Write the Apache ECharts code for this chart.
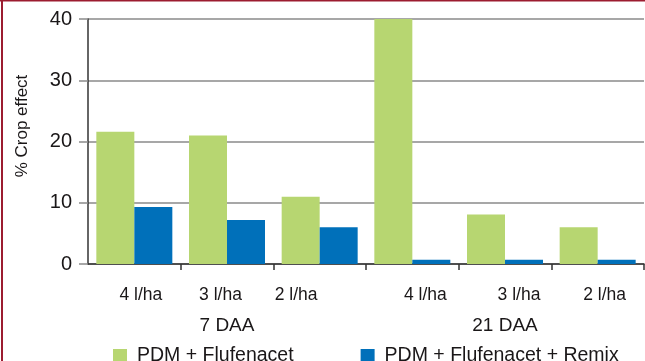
<!DOCTYPE html>
<html>
<head>
<meta charset="utf-8">
<script src="https://cdn.jsdelivr.net/npm/echarts@6/dist/echarts.min.js"></script>
<style>
html,body{margin:0;padding:0;background:#fff;}
#c{width:645px;height:361px;}
</style>
</head>
<body>
<div id="c"></div>
<script>
const categories = ['4 l/ha', '3 l/ha', '2 l/ha', '4 l/ha', '3 l/ha', '2 l/ha'];
const groups = ['7 DAA', '21 DAA'];
const seriesNames = ['PDM + Flufenacet', 'PDM + Flufenacet + Remix'];
const flufenacet = [21.6, 21.0, 11.0, 40.2, 8.1, 6.0];
const remix = [9.3, 7.2, 6.0, 0.7, 0.7, 0.7];
const yTicks = [0, 10, 20, 30, 40];

const FONT = '"Liberation Sans", Arial, Helvetica, sans-serif';
const TXT = '#1a1718';
const labelShift = [
  [0, 0, 0, 13], [0, 13, 0, 0], [0, 47, 0, 0],
  [0, 0, 0, 26], [0, 0, 0, 28], [0, 0, 0, 14]
];
const rich = {};
labelShift.forEach((p, i) => { rich['p' + i] = { padding: p, fontSize: 17.5, fontFamily: FONT, color: TXT }; });

const chart = echarts.init(document.getElementById('c'), null, { renderer: 'canvas' });
chart.setOption({
  animation: false,
  backgroundColor: '#fff',
  textStyle: { fontFamily: FONT, color: TXT },
  grid: { left: 88, right: 1, top: 19, bottom: 97, containLabel: false },
  legend: {
    left: 113, top: 346, padding: 0,
    icon: 'rect', itemWidth: 14, itemHeight: 14, itemGap: 67,
    data: seriesNames,
    textStyle: { fontSize: 19.5, fontFamily: FONT, color: TXT, padding: [0, 0, 0, 5] }
  },
  xAxis: [
    {
      type: 'category', data: categories, gridIndex: 0,
      axisLine: { lineStyle: { color: '#333', width: 1.5 } },
      axisTick: { show: true, length: 6, lineStyle: { color: '#333', width: 1.5 },
                  interval: function (i) { return i !== 0; } },
      axisLabel: {
        interval: 0, margin: 22,
        formatter: function (v, i) { return '{p' + i + '|' + v + '}'; },
        rich: rich
      }
    },
    {
      type: 'category', data: groups, gridIndex: 0, position: 'bottom',
      axisLine: { show: false }, axisTick: { show: false },
      axisLabel: { interval: 0, margin: 52, fontSize: 19, fontFamily: FONT, color: TXT }
    }
  ],
  yAxis: {
    type: 'value', min: yTicks[0], max: yTicks[yTicks.length - 1], interval: 10,
    axisLine: { show: true, lineStyle: { color: '#333', width: 1.5 } },
    axisTick: { show: true, length: 9, lineStyle: { color: '#8a8a8a', width: 1.5 } },
    splitLine: { lineStyle: { color: '#8a8a8a', width: 1.5 } },
    axisLabel: { margin: 16, fontSize: 20, fontFamily: FONT, color: TXT }
  },
  series: [
    { name: seriesNames[0], type: 'bar', data: flufenacet, barWidth: 38, barGap: 0,
      itemStyle: { color: '#b7d671' } },
    { name: seriesNames[1], type: 'bar', data: remix, barWidth: 38, barGap: 0,
      itemStyle: { color: '#0070ba' } }
  ],
  graphic: [
    { type: 'rect', shape: { x: 1, y: 0, width: 2, height: 361 }, style: { fill: '#9c1c30' }, z: 100 },
    { type: 'rect', shape: { x: 0, y: 0, width: 645, height: 1.5 }, style: { fill: '#9c1c30' }, z: 100 },
    { type: 'text', x: 22, y: 126, rotation: Math.PI / 2,
      style: { text: '% Crop effect', font: '17px ' + FONT, fill: TXT, textAlign: 'center', textVerticalAlign: 'middle' } }
  ]
});
</script>
</body>
</html>
